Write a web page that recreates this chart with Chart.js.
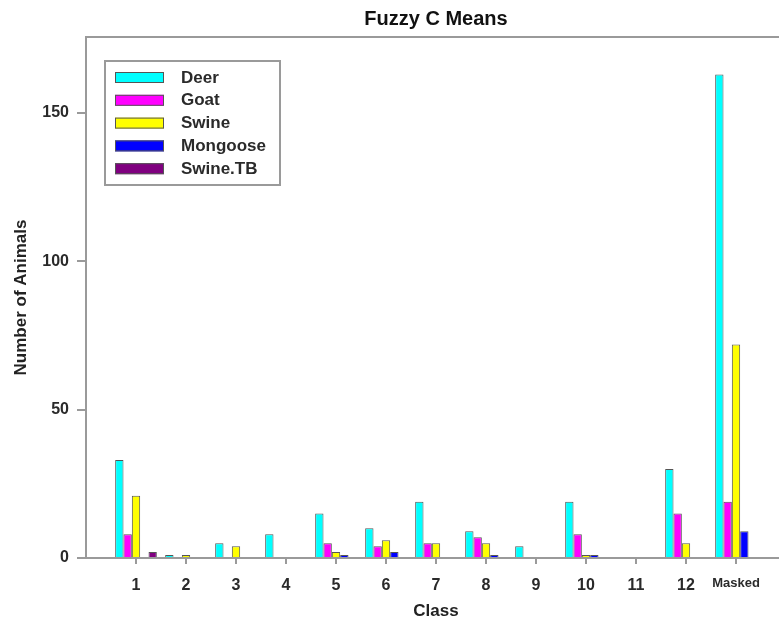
<!DOCTYPE html>
<html>
<head>
<meta charset="utf-8">
<title>Fuzzy C Means</title>
<script src="https://cdn.jsdelivr.net/npm/chart.js@4.4.1/dist/chart.umd.min.js"></script>
<style>
  html, body { margin: 0; padding: 0; background: #fff; overflow: hidden; }
  #wrap { width: 800px; height: 625px; }
</style>
</head>
<body>
<div id="wrap"><canvas id="chart" width="800" height="625"></canvas></div>
<script>
  // --- データ ---
  const classes = ["1", "2", "3", "4", "5", "6", "7", "8", "9", "10", "11", "12", "Masked"];
  const deer     = [33, 1, 5, 8, 15, 10, 19, 9, 4, 19, 0, 30, 163];
  const goat     = [8, 0, 0, 0, 5, 4, 5, 7, 0, 8, 0, 15, 19];
  const swine    = [21, 1, 4, 0, 2, 6, 5, 5, 0, 1, 0, 5, 72];
  const mongoose = [0, 0, 0, 0, 1, 2, 0, 1, 0, 1, 0, 0, 9];
  const swineTB  = [2, 0, 0, 0, 0, 0, 0, 0, 0, 0, 0, 0, 0];
  const yTicks = [0, 50, 100, 150];

  const FONT = "'Liberation Sans', Arial, sans-serif";
  const LINE = "#9a9a9a";

  const series = [
    { label: "Deer", data: deer, color: "#00ffff" },
    { label: "Goat", data: goat, color: "#ff00ff" },
    { label: "Swine", data: swine, color: "#ffff00" },
    { label: "Mongoose", data: mongoose, color: "#0000ff" },
    { label: "Swine.TB", data: swineTB, color: "#800080" }
  ];

  // 枠線（上・右）
  const boxPlugin = {
    id: "box",
    afterDraw(chart) {
      const { ctx, chartArea: a } = chart;
      ctx.save();
      ctx.strokeStyle = LINE;
      ctx.lineWidth = 2;
      ctx.beginPath();
      ctx.moveTo(a.left, a.top);
      ctx.lineTo(a.right, a.top);
      ctx.lineTo(a.right, a.bottom);
      ctx.stroke();
      ctx.restore();
    }
  };

  // 凡例（プロット内の枠付き）
  const legendPlugin = {
    id: "boxLegend",
    afterDraw(chart) {
      const ctx = chart.ctx;
      const x0 = 105, y0 = 61, w = 175, h = 124;
      ctx.save();
      ctx.fillStyle = "#fff";
      ctx.fillRect(x0, y0, w, h);
      ctx.strokeStyle = LINE;
      ctx.lineWidth = 2;
      ctx.strokeRect(x0, y0, w, h);
      ctx.font = "bold 17px " + FONT;
      ctx.textBaseline = "middle";
      chart.data.datasets.forEach((ds, i) => {
        const cy = 77 + i * 22.8;
        ctx.fillStyle = ds.backgroundColor;
        ctx.fillRect(115, cy - 5, 49, 11);
        ctx.strokeStyle = "#555";
        ctx.lineWidth = 1;
        ctx.strokeRect(115.5, cy - 4.5, 48, 10);
        ctx.fillStyle = "#2a2a2a";
        ctx.fillText(ds.label, 181, cy + 1);
      });
      ctx.restore();
    }
  };

  new Chart(document.getElementById("chart"), {
    type: "bar",
    data: {
      datasets: series.map(s => ({
        label: s.label,
        data: s.data.map((v, i) => ({ x: i + 1, y: v })),
        backgroundColor: s.color,
        borderColor: "#555",
        borderWidth: 1,
        borderSkipped: "start",
        categoryPercentage: 5 / 6,
        barPercentage: 1
      }))
    },
    options: {
      responsive: false,
      animation: false,
      devicePixelRatio: 1,
      layout: { padding: { left: 0, right: 14, top: 0, bottom: 0 } },
      plugins: {
        legend: { display: false },
        tooltip: { enabled: false },
        title: {
          display: true,
          text: "Fuzzy C Means",
          fullSize: false,
          color: "#111",
          font: { family: FONT, size: 20, weight: "bold" },
          padding: { top: 7, bottom: 6 }
        }
      },
      scales: {
        x: {
          type: "linear",
          min: 0,
          max: classes.length + 1,
          offset: false,
          afterFit: s => { s.height = 67; },
          afterBuildTicks: s => {
            s.ticks = classes.map((c, i) => ({ value: i + 1 }));
          },
          border: { display: true, color: LINE, width: 2 },
          grid: { display: true, drawOnChartArea: false, drawTicks: true, tickLength: 6, color: LINE, lineWidth: 2, offset: false },
          ticks: {
            autoSkip: false,
            maxRotation: 0,
            padding: 12,
            color: "#2a2a2a",
            callback: v => classes[v - 1] || "",
            font: c => ({ family: FONT, weight: "bold", size: c.tick && c.tick.value === classes.length ? 13 : 16 })
          },
          title: {
            display: true,
            text: "Class",
            color: "#222",
            font: { family: FONT, size: 17, weight: "bold" },
            padding: { top: 0, bottom: 3 }
          }
        },
        y: {
          min: 0,
          max: 175.6,
          afterFit: s => { s.width = 86; },
          afterBuildTicks: s => { s.ticks = yTicks.map(v => ({ value: v })); },
          border: { display: true, color: LINE, width: 2 },
          grid: { display: true, drawOnChartArea: false, drawTicks: true, tickLength: 9, color: LINE, lineWidth: 2 },
          ticks: {
            padding: 8,
            color: "#2a2a2a",
            font: { family: FONT, size: 16, weight: "bold" }
          },
          title: {
            display: true,
            text: "Number of Animals",
            color: "#222",
            font: { family: FONT, size: 17, weight: "bold" },
            padding: { top: 11, bottom: 0 }
          }
        }
      }
    },
    plugins: [boxPlugin, legendPlugin]
  });
</script>
</body>
</html>
